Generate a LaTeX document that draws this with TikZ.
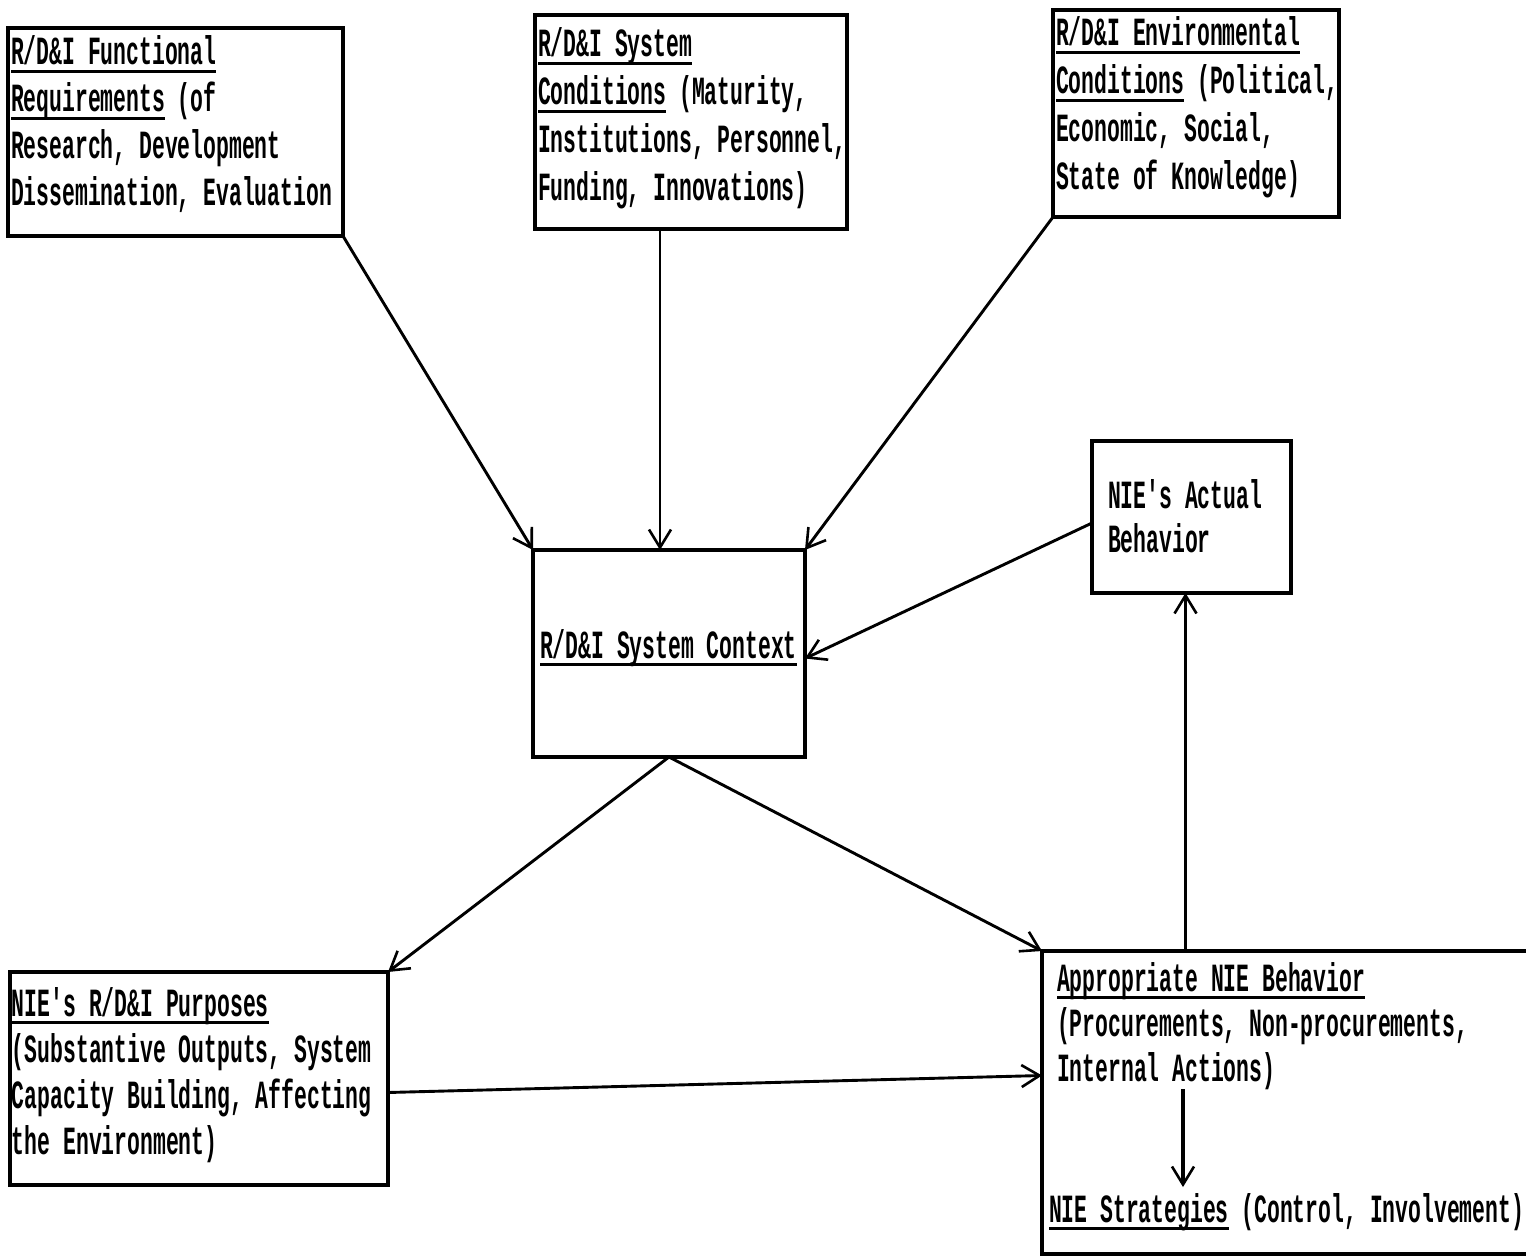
\documentclass[tikz,border=0pt]{standalone}
\usepackage{fontspec}
\usetikzlibrary{arrows.meta,calc}
\newfontfamily\tw[FakeStretch=0.535]{Liberation Mono Bold}
\newcommand{\ulx}[1]{\setbox0\hbox{#1}\rlap{\rule[-8pt]{\wd0}{2.8pt}}\box0\relax}
\newcommand{\tline}[1]{\hbox{#1}}
\newcommand{\tblock}[2]{\vtop{\baselineskip=#1\lineskiplimit=-100pt\lineskip=0pt #2}}
\begin{document}
\begin{tikzpicture}[x=1pt,y=-1pt,
  box/.style={draw,line width=3.2pt,inner sep=0pt,outer sep=0pt,anchor=north west},
  txt/.style={inner sep=0pt,outer sep=0pt,anchor=base west,font=\tw\fontsize{40}{47}\selectfont},
  arr/.style={line width=2.9pt,-{Straight Barb[length=18pt,width=22pt,line width=2.6pt]}}]
\useasboundingbox (0,0) rectangle (1526,1257);
\fill[white] (0,0) rectangle (1526,1257);
% boxes
\node[box,minimum width=335pt,minimum height=208pt] (A) at (8,28) {};
\node[box,minimum width=312pt,minimum height=214pt] (B) at (535,15) {};
\node[box,minimum width=286pt,minimum height=207pt] (C) at (1053,10) {};
\node[box,minimum width=272pt,minimum height=207pt] (D) at (533,550) {};
\node[box,minimum width=199pt,minimum height=152pt] (E) at (1092,441) {};
\node[box,minimum width=378pt,minimum height=213pt] (F) at (10,972) {};
\node[box,minimum width=493pt,minimum height=303pt] (G) at (1042,951) {};
% texts
\node[txt] (At) at (11,65) {\tblock{47pt}{\tline{\ulx{R/D\&I Functional}}\tline{\ulx{Requirements} (of}\tline{Research, Development}\tline{Dissemination, Evaluation}}};
\node[txt] (Bt) at (538,57) {\tblock{48pt}{\tline{\ulx{R/D\&I System}}\tline{\ulx{Conditions} (Maturity,}\tline{Institutions, Personnel,}\tline{Funding, Innovations)}}};
\node[txt] (Ct) at (1056,46) {\tblock{48pt}{\tline{\ulx{R/D\&I Environmental}}\tline{\ulx{Conditions} (Political,}\tline{Economic, Social,}\tline{State of Knowledge)}}};
\node[txt] (Dt) at (540,658) {\ulx{R/D\&I System Context}};
\node[txt] (Et) at (1108,508) {\tblock{44pt}{\tline{NIE's Actual}\tline{Behavior}}};
\node[txt] (Ft) at (12,1016) {\tblock{46pt}{\tline{\ulx{NIE's R/D\&I Purposes}}\tline{(Substantive Outputs, System}\tline{Capacity Building, Affecting}\tline{the Environment)}}};
\node[txt] (Gt) at (1057,991) {\tblock{45pt}{\tline{\ulx{Appropriate NIE Behavior}}\tline{(Procurements, Non-procurements,}\tline{Internal Actions)}}};
\node[txt] (Gs) at (1049,1222) {\ulx{NIE Strategies} (Control, Involvement)};
% connectors
\draw[arr] (A.south east) -- (D.north west);
\draw[arr] ([xshift=125pt]B.south west) -- ([xshift=127pt]D.north west);
\draw[arr] (C.south west) -- (D.north east);
\draw[arr] ([yshift=-6pt]E.west) -- ([yshift=-5pt]D.east);
\draw[arr] (D.south) -- (F.north east);
\draw[arr] (D.south) -- (G.north west);
\draw[arr] ([yshift=-14pt]F.east) -- ([yshift=27pt]G.west);
\draw[arr] ([xshift=-6pt]E.south |- G.north) -- ([xshift=-6pt]E.south);
\draw[arr,line width=3.6pt] ([xshift=126pt]Gt.south west) -- ([xshift=134pt,yshift=6pt]Gs.north west);
\end{tikzpicture}
\end{document}
